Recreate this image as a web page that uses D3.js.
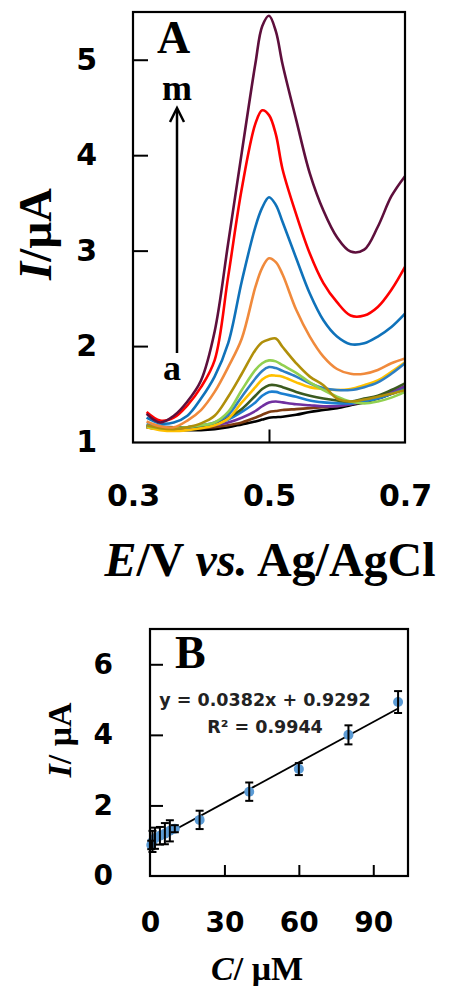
<!DOCTYPE html>
<html><head><meta charset="utf-8">
<script src="https://cdn.jsdelivr.net/npm/d3@7"></script>
<style>
html,body{margin:0;padding:0;background:#fff;}
svg{display:block;}
</style></head>
<body>
<svg id="chart" width="451" height="986"></svg>
<script>
// ---------- Panel A data ----------
const potentials = [0.32,0.34,0.36,0.38,0.40,0.42,0.44,0.46,0.48,0.49,0.50,0.51,0.52,0.54,0.56,0.58,0.60,0.62,0.64,0.66,0.68,0.70];
const curveLabels = ["a","b","c","d","e","f","g","h","i","j","k","l","m"];
const curveColors = ["#000000","#7f3d12","#7030a0","#1b7fd0","#3b5a1f","#ffc000","#2e7fc4","#92d050","#b08f0a","#f08a3c","#0f72ba","#ff0000","#5e0f3c"];
const curveA = [1.15,1.13,1.12,1.12,1.12,1.13,1.15,1.18,1.21,1.23,1.25,1.255,1.26,1.28,1.31,1.33,1.35,1.38,1.41,1.45,1.50,1.55];
const curveB = [1.16,1.14,1.13,1.13,1.14,1.15,1.17,1.20,1.25,1.28,1.31,1.32,1.33,1.34,1.35,1.36,1.37,1.39,1.42,1.46,1.51,1.57];
const curveC = [1.15,1.14,1.14,1.14,1.15,1.17,1.20,1.25,1.32,1.37,1.41,1.42,1.41,1.39,1.38,1.37,1.37,1.39,1.42,1.47,1.52,1.58];
const curveD = [1.18,1.16,1.15,1.15,1.16,1.18,1.23,1.31,1.41,1.48,1.52,1.52,1.50,1.47,1.43,1.41,1.40,1.40,1.42,1.45,1.50,1.55];
const curveE = [1.16,1.15,1.15,1.15,1.16,1.18,1.25,1.34,1.48,1.55,1.59,1.59,1.57,1.52,1.48,1.45,1.43,1.42,1.45,1.48,1.54,1.61];
const curveF = [1.15,1.12,1.11,1.12,1.14,1.17,1.24,1.41,1.57,1.65,1.69,1.69,1.68,1.62,1.57,1.55,1.54,1.55,1.59,1.64,1.73,1.83];
const curveG = [1.17,1.15,1.14,1.15,1.17,1.20,1.28,1.47,1.66,1.74,1.78,1.77,1.74,1.68,1.61,1.56,1.54,1.54,1.57,1.62,1.71,1.82];
const curveH = [1.16,1.14,1.14,1.15,1.17,1.20,1.31,1.54,1.75,1.82,1.85,1.84,1.80,1.72,1.62,1.54,1.47,1.42,1.40,1.42,1.46,1.52];
const curveI = [1.17,1.14,1.13,1.15,1.19,1.27,1.47,1.71,1.96,2.04,2.07,2.08,1.99,1.82,1.68,1.59,1.45,1.42,1.44,1.47,1.50,1.54];
const curveJ = [1.21,1.16,1.15,1.22,1.33,1.52,1.78,2.08,2.62,2.82,2.92,2.88,2.75,2.38,2.10,1.89,1.76,1.71,1.71,1.75,1.82,1.87];
const curveK = [1.25,1.19,1.20,1.27,1.45,1.68,2.03,2.68,3.25,3.45,3.56,3.48,3.30,2.92,2.55,2.27,2.10,2.02,2.03,2.10,2.20,2.34];
const curveL = [1.31,1.22,1.25,1.38,1.57,1.85,2.73,3.65,4.33,4.47,4.42,4.22,3.85,3.38,2.97,2.66,2.46,2.32,2.32,2.41,2.59,2.83];
const curveM = [1.29,1.20,1.27,1.42,1.64,2.15,3.08,4.03,4.96,5.35,5.46,5.30,4.95,4.37,3.81,3.42,3.14,2.99,3.01,3.25,3.57,3.78];
const curvesA = [curveA,curveB,curveC,curveD,curveE,curveF,curveG,curveH,curveI,curveJ,curveK,curveL,curveM];
const xTicksA = [0.3,0.5,0.7];
const yTicksA = [1,2,3,4,5];

// ---------- Panel B data ----------
const concentrations = [0.5,1,2,4,6,8,10,20,40,60,80,100];
const peakCurrents   = [0.88,0.98,1.07,1.14,1.20,1.28,1.34,1.59,2.39,3.03,4.00,4.93];
const errorBars      = [0.12,0.30,0.30,0.25,0.30,0.30,0.10,0.26,0.26,0.17,0.27,0.31];
const fitSlope = 0.0382, fitIntercept = 0.9292;
const fitRange = [0,100];
const xTicksB = [0,30,60,90];
const yTicksB = [0,2,4,6];

const svg = d3.select("#chart");
svg.append("rect").attr("width",451).attr("height",986).attr("fill","#fff");

const sansBold = "'DejaVu Sans', Verdana, sans-serif";
const serif = "'Liberation Serif','Times New Roman',serif";

// ================= PANEL A =================
const ax = d3.scaleLinear().domain([0.3,0.7]).range([133,405]);
const ay = d3.scaleLinear().domain([0.99,5.5]).range([442.5,12]);

const gA = svg.append("g");
const line = d3.line().x((d,i)=>ax(potentials[i])).y(d=>ay(d)).curve(d3.curveCatmullRom.alpha(0.5));
curvesA.forEach((c,k)=>{
  gA.append("path").attr("d",line(c)).attr("fill","none")
    .attr("stroke",curveColors[k]).attr("stroke-width",2.6).attr("stroke-linejoin","round");
});

const yAxA = gA.append("g").attr("transform","translate(133,0)")
  .call(d3.axisLeft(ay).tickValues(yTicksA).tickFormat(d3.format("d")).tickSizeInner(-15).tickSizeOuter(0).tickPadding(36));
const xAxA = gA.append("g").attr("transform","translate(0,442.5)")
  .call(d3.axisBottom(ax).tickValues(xTicksA).tickFormat(d3.format(".1f")).tickSizeInner(-13).tickSizeOuter(0).tickPadding(42));
[yAxA,xAxA].forEach(g=>{
  g.select(".domain").remove();
  g.selectAll("line").attr("stroke","#000").attr("stroke-width",2);
  g.selectAll("text").attr("font-family",sansBold).attr("font-weight","bold").attr("font-size",30).attr("fill","#000");
});
xAxA.selectAll(".tick").filter(d=>d!==0.5).select("line").remove();
yAxA.selectAll(".tick").filter(d=>d===1).select("line").remove();

gA.append("rect").attr("x",133).attr("y",12).attr("width",272).attr("height",430.5)
  .attr("fill","none").attr("stroke","#000").attr("stroke-width",2.2);

// labels
gA.append("text").attr("x",157).attr("y",53).attr("font-family",serif).attr("font-weight","bold")
  .attr("font-size",46).text("A");
gA.append("text").attr("x",177).attr("y",100).attr("text-anchor","middle").attr("font-family",serif)
  .attr("font-weight","bold").attr("font-size",36).text("m");
gA.append("text").attr("x",172).attr("y",380).attr("text-anchor","middle").attr("font-family",serif)
  .attr("font-weight","bold").attr("font-size",36).text("a");
gA.append("line").attr("x1",177).attr("x2",177).attr("y1",353).attr("y2",109)
  .attr("stroke","#000").attr("stroke-width",2.5);
gA.append("path").attr("d","M170,122 L177,108 L184,122").attr("fill","none")
  .attr("stroke","#000").attr("stroke-width",2.5);

// axis titles A
const yt = gA.append("text").attr("transform","translate(51,234) rotate(-90)").attr("text-anchor","middle")
  .attr("font-family",serif).attr("font-weight","bold").attr("font-size",47);
yt.append("tspan").attr("font-style","italic").text("I");
yt.append("tspan").text("/μA");

const xt = gA.append("text").attr("x",270).attr("y",576).attr("text-anchor","middle")
  .attr("font-family",serif).attr("font-weight","bold").attr("font-size",48);
xt.append("tspan").attr("font-style","italic").text("E");
xt.append("tspan").text("/V ");
xt.append("tspan").attr("font-style","italic").text("vs.");
xt.append("tspan").text(" Ag/AgCl");

// ================= PANEL B =================
const bx = d3.scaleLinear().domain([0,104]).range([150,408]);
const by = d3.scaleLinear().domain([0,7]).range([876,629]);
const gB = svg.append("g");

const yAxB = gB.append("g").attr("transform","translate(150,0)")
  .call(d3.axisLeft(by).tickValues(yTicksB).tickFormat(d3.format("d")).tickSizeInner(-13).tickSizeOuter(0).tickPadding(37));
const xAxB = gB.append("g").attr("transform","translate(0,876)")
  .call(d3.axisBottom(bx).tickValues(xTicksB).tickFormat(d3.format("d")).tickSizeInner(-11).tickSizeOuter(0).tickPadding(36));
[yAxB,xAxB].forEach(g=>{
  g.select(".domain").remove();
  g.selectAll("line").attr("stroke","#000").attr("stroke-width",2);
  g.selectAll("text").attr("font-family",sansBold).attr("font-weight","bold").attr("font-size",28).attr("fill","#000");
});
yAxB.selectAll(".tick").filter(d=>d===0).select("line").remove();
xAxB.selectAll(".tick").filter(d=>d===0).select("line").remove();

// fit line
gB.append("line")
  .attr("x1",bx(fitRange[0])).attr("y1",by(fitIntercept+fitSlope*fitRange[0]))
  .attr("x2",bx(fitRange[1])).attr("y2",by(fitIntercept+fitSlope*fitRange[1]))
  .attr("stroke","#000").attr("stroke-width",1.8);

// points
gB.selectAll("circle.pt").data(concentrations).enter().append("circle").attr("class","pt")
  .attr("cx",d=>bx(d)).attr("cy",(d,i)=>by(peakCurrents[i])).attr("r",5).attr("fill","#5b9bd5");

// error bars
const eb = gB.selectAll("g.eb").data(concentrations).enter().append("g").attr("class","eb");
eb.append("line").attr("x1",d=>bx(d)).attr("x2",d=>bx(d))
  .attr("y1",(d,i)=>by(peakCurrents[i]+errorBars[i])).attr("y2",(d,i)=>by(peakCurrents[i]-errorBars[i]))
  .attr("stroke","#000").attr("stroke-width",2);
eb.append("line").attr("x1",d=>bx(d)-4).attr("x2",d=>bx(d)+4)
  .attr("y1",(d,i)=>by(peakCurrents[i]+errorBars[i])).attr("y2",(d,i)=>by(peakCurrents[i]+errorBars[i]))
  .attr("stroke","#000").attr("stroke-width",2);
eb.append("line").attr("x1",d=>bx(d)-4).attr("x2",d=>bx(d)+4)
  .attr("y1",(d,i)=>by(peakCurrents[i]-errorBars[i])).attr("y2",(d,i)=>by(peakCurrents[i]-errorBars[i]))
  .attr("stroke","#000").attr("stroke-width",2);

gB.append("rect").attr("x",150).attr("y",629).attr("width",258).attr("height",247)
  .attr("fill","none").attr("stroke","#000").attr("stroke-width",2.2);

gB.append("text").attr("x",175).attr("y",668).attr("font-family",serif).attr("font-weight","bold")
  .attr("font-size",46).text("B");
gB.append("text").attr("x",265).attr("y",706).attr("text-anchor","middle").attr("font-family",sansBold)
  .attr("font-weight","bold").attr("font-size",17.5).attr("fill","#222").text("y = 0.0382x + 0.9292");
gB.append("text").attr("x",265).attr("y",733).attr("text-anchor","middle").attr("font-family",sansBold)
  .attr("font-weight","bold").attr("font-size",17.5).attr("fill","#222").text("R² = 0.9944");

const ytb = gB.append("text").attr("transform","translate(71,740) rotate(-90)").attr("text-anchor","middle")
  .attr("font-family",serif).attr("font-weight","bold").attr("font-size",34);
ytb.append("tspan").attr("font-style","italic").text("I");
ytb.append("tspan").text("/ μA");

const xtb = gB.append("text").attr("x",257).attr("y",980).attr("text-anchor","middle")
  .attr("font-family",serif).attr("font-weight","bold").attr("font-size",34);
xtb.append("tspan").attr("font-style","italic").text("C");
xtb.append("tspan").text("/ μM");
</script>
</body></html>
